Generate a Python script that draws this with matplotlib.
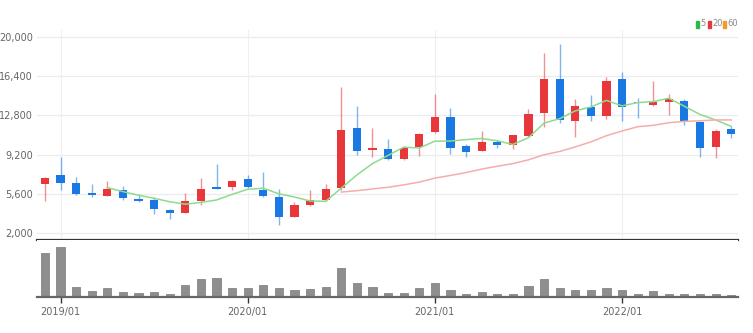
import numpy as np
import pandas as pd
import matplotlib
matplotlib.use("Agg")
import matplotlib.pyplot as plt
from matplotlib.patches import Rectangle

plt.rcParams['font.family'] = ['Liberation Sans Narrow', 'DejaVu Sans']

# monthly candles, 2018/12 .. 2022/08
months = pd.period_range('2018-12', '2022-08', freq='M').strftime('%Y/%m').tolist()

opens = [6490, 7370, 6600, 5720, 5420, 5990, 5140, 5020, 4160, 3890, 4960, 6270,
         6240, 6970, 5940, 5350, 3460, 4590, 5050, 6120, 11610, 9600, 9690, 8780,
         9930, 11250, 12680, 10020, 9540, 10330, 10080, 10910, 12990, 16100, 12310,
         13590, 12770, 16100, 14050, 13750, 13990, 14140, 12220, 9930, 11520]
highs = [7150, 8960, 7150, 6490, 6790, 6330, 5600, 5350, 4250, 5660, 7090, 8320,
         6850, 7370, 7590, 6030, 4890, 5960, 6510, 15420, 13660, 11670, 10610, 10020,
         11150, 14730, 13440, 10180, 11370, 10540, 11030, 13380, 18540, 19330, 14300,
         14640, 16340, 16800, 14420, 15970, 14750, 14320, 12310, 11520, 11850]
lows = [4960, 5960, 5530, 5300, 5400, 5050, 4900, 3790, 3310, 3830, 4590, 6050,
        5960, 6150, 5350, 2760, 3450, 4530, 4960, 5960, 9170, 9010, 8710, 8710,
        9100, 11150, 9260, 9010, 9500, 9780, 9720, 10820, 11760, 12130, 10790,
        12310, 12440, 12310, 12530, 13660, 12830, 11920, 9010, 8870, 10700]
closes = [7090, 6630, 5630, 5480, 6080, 5260, 4960, 4250, 3890, 4960, 6060, 6080,
          6820, 6240, 5420, 3520, 4590, 5020, 6080, 11460, 9560, 9780, 8780, 9840,
          11090, 12680, 9840, 9440, 10330, 10080, 10970, 12950, 16100, 12370, 13660,
          12740, 15970, 13590, 13900, 14050, 14320, 12280, 9840, 11390, 11090]
volumes = [437, 503, 103, 60, 90, 47, 37, 47, 27, 120, 183, 193,
           87, 87, 120, 93, 70, 80, 103, 290, 140, 97, 37, 37,
           87, 140, 67, 33, 50, 27, 27, 107, 183, 87, 67, 73,
           87, 73, 33, 57, 33, 33, 33, 27, 20]

yticks = [2000, 5600, 9200, 12800, 16400, 20000]
year_ticks = ['2019/01', '2020/01', '2021/01', '2022/01']

up_color = '#e8363b'
down_color = '#1a78e2'

df = pd.DataFrame({'open': opens, 'high': highs, 'low': lows, 'close': closes,
                   'volume': volumes}, index=months)
df['ma5'] = df['close'].rolling(5).mean()
df['ma20'] = df['close'].rolling(20).mean()
df['ma60'] = df['close'].rolling(60).mean()

x = np.arange(len(df))
up = df['close'] >= df['open']
colors = np.where(up, up_color, down_color)

fig = plt.figure(figsize=(7.53, 3.33), dpi=100)
ax = fig.add_axes([0.0491, 0.2793, 0.9309, 0.6306])
axv = fig.add_axes([0.0491, 0.1081, 0.9309, 0.1712], sharex=ax)

# price panel
for yt in yticks:
    ax.axhline(yt, color='#ececec', lw=0.9, zorder=0)
tick_pos = [months.index(m) for m in year_ticks]
for xp in tick_pos:
    ax.axvline(xp, color='#efefef', lw=0.8, zorder=0)

ax.vlines(x, df['low'], df['high'], colors=colors, lw=1.0, alpha=0.55, zorder=2)
body_low = np.minimum(df['open'], df['close'])
body_h = np.maximum(np.abs(df['close'] - df['open']), 160)
ax.bar(x, body_h, bottom=body_low, width=0.52, color=colors, zorder=3)

ax.plot(x, df['ma5'], color='#8edb8e', lw=1.1, zorder=4)
ax.plot(x, df['ma20'], color='#f5adad', lw=1.1, zorder=4)
ax.plot(x, df['ma60'], color='#f5a340', lw=1.1, zorder=4)

ax.set_ylim(1386, 20613)
ax.set_xlim(-0.51, 44.43)
ax.set_yticks(yticks)
ax.set_yticklabels([f'{v:,}' for v in yticks])
ax.tick_params(axis='y', length=0, pad=3, labelsize=7, labelcolor='#666666')
ax.tick_params(axis='x', length=0, labelbottom=False)
for s in ax.spines.values():
    s.set_visible(False)
ax.spines['bottom'].set_visible(True)
ax.spines['bottom'].set_color('#333333')
ax.spines['bottom'].set_linewidth(1.6)

# volume panel
axv.bar(x, df['volume'], width=0.52, color='#8e8e8e', edgecolor='#777777', lw=0.5)
axv.set_ylim(0, 570)
axv.set_yticks([])
axv.set_xticks(tick_pos)
axv.set_xticklabels(year_ticks)
axv.tick_params(axis='x', length=4, width=1, color='#333333', pad=3,
                labelsize=7, labelcolor='#666666')
for s in axv.spines.values():
    s.set_visible(False)
axv.spines['bottom'].set_visible(True)
axv.spines['bottom'].set_color('#666666')
axv.spines['bottom'].set_linewidth(1.6)

# moving-average legend, top right
legend_items = [('5', '#2db84a', 696), ('20', '#e8363b', 708), ('60', '#f39a2b', 723)]
for label, c, px in legend_items:
    fig.patches.append(Rectangle((px / 753, (333 - 27.5) / 333), 3 / 753, 7 / 333,
                                 transform=fig.transFigure, color=c))
    fig.text((px + 4.5) / 753, (333 - 24) / 333, label, fontsize=6, color='#888888',
             va='center', ha='left')

fig.savefig('out.png', dpi=100)
